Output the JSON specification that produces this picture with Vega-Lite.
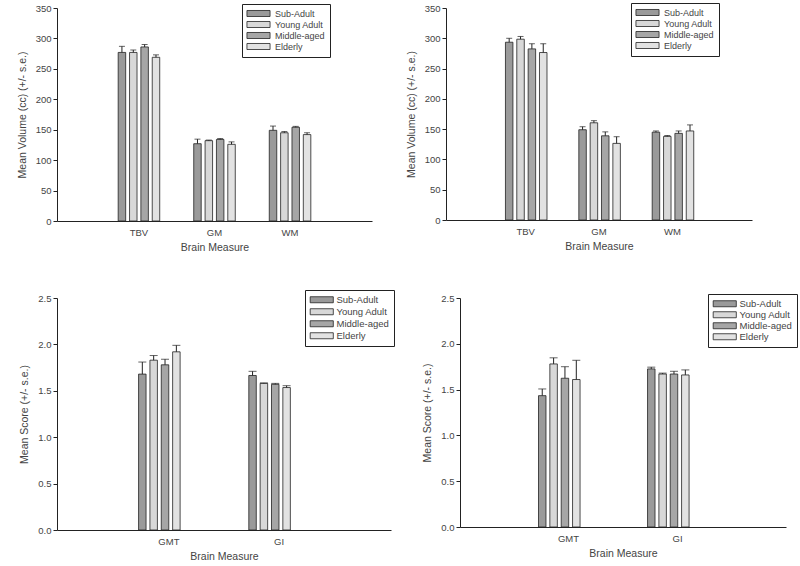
{
  "$schema": "https://vega.github.io/schema/vega-lite/v6.json",
  "padding": {"left": 17, "top": 2, "right": 0, "bottom": 0},
  "background": "white",
  "config": {
    "view": {"stroke": null},
    "font": "Liberation Sans",
    "axis": {
      "labelFont": "Liberation Sans", "titleFont": "Liberation Sans",
      "labelFontSize": 9.5, "titleFontSize": 10.5, "titleFontWeight": "normal",
      "labelColor": "#444", "titleColor": "#444",
      "domainColor": "#222", "tickColor": "#222", "grid": false
    },
    "axisX": {"ticks": false, "labelAngle": 0, "labelPadding": 6, "titlePadding": 6},
    "axisY": {"tickSize": 4, "labelPadding": 2, "titlePadding": 8, "labelOverlap": false},
    "legend": {
      "orient": "none", "fillColor": "white", "strokeColor": "#222", "padding": 5,
      "labelFont": "Liberation Sans", "labelFontSize": 9, "labelColor": "#444",
      "symbolType": "M-3.3,-0.86H3.3V0.86H-3.3Z", "symbolSize": 49,
      "symbolStrokeColor": "#222", "symbolStrokeWidth": 0.8, "symbolOffset": 7,
      "labelOffset": 12, "rowPadding": 0, "title": null
    }
  },
  "datasets": {
    "v1": [
      {"measure": "TBV", "group": "Sub-Adult", "mean": 277, "upper": 287},
      {"measure": "TBV", "group": "Young Adult", "mean": 277, "upper": 281},
      {"measure": "TBV", "group": "Middle-aged", "mean": 286, "upper": 290},
      {"measure": "TBV", "group": "Elderly", "mean": 269, "upper": 273},
      {"measure": "GM", "group": "Sub-Adult", "mean": 127, "upper": 134.5},
      {"measure": "GM", "group": "Young Adult", "mean": 132, "upper": 133},
      {"measure": "GM", "group": "Middle-aged", "mean": 134, "upper": 135.5},
      {"measure": "GM", "group": "Elderly", "mean": 126, "upper": 130},
      {"measure": "WM", "group": "Sub-Adult", "mean": 149, "upper": 156},
      {"measure": "WM", "group": "Young Adult", "mean": 145, "upper": 147},
      {"measure": "WM", "group": "Middle-aged", "mean": 154, "upper": 155.5},
      {"measure": "WM", "group": "Elderly", "mean": 142, "upper": 145}
    ],
    "v2": [
      {"measure": "TBV", "group": "Sub-Adult", "mean": 293.5, "upper": 300},
      {"measure": "TBV", "group": "Young Adult", "mean": 298.5, "upper": 303},
      {"measure": "TBV", "group": "Middle-aged", "mean": 282.5, "upper": 291},
      {"measure": "TBV", "group": "Elderly", "mean": 276.5, "upper": 291},
      {"measure": "GM", "group": "Sub-Adult", "mean": 149, "upper": 154},
      {"measure": "GM", "group": "Young Adult", "mean": 160.5, "upper": 164},
      {"measure": "GM", "group": "Middle-aged", "mean": 139, "upper": 145.5},
      {"measure": "GM", "group": "Elderly", "mean": 126.5, "upper": 137.5},
      {"measure": "WM", "group": "Sub-Adult", "mean": 145, "upper": 147},
      {"measure": "WM", "group": "Young Adult", "mean": 138, "upper": 139.5},
      {"measure": "WM", "group": "Middle-aged", "mean": 143, "upper": 147},
      {"measure": "WM", "group": "Elderly", "mean": 147, "upper": 157}
    ],
    "s1": [
      {"measure": "GMT", "group": "Sub-Adult", "mean": 1.68, "upper": 1.81},
      {"measure": "GMT", "group": "Young Adult", "mean": 1.83, "upper": 1.88},
      {"measure": "GMT", "group": "Middle-aged", "mean": 1.78, "upper": 1.84},
      {"measure": "GMT", "group": "Elderly", "mean": 1.92, "upper": 1.99},
      {"measure": "GI", "group": "Sub-Adult", "mean": 1.665, "upper": 1.71},
      {"measure": "GI", "group": "Young Adult", "mean": 1.58, "upper": 1.585},
      {"measure": "GI", "group": "Middle-aged", "mean": 1.57, "upper": 1.58},
      {"measure": "GI", "group": "Elderly", "mean": 1.535, "upper": 1.555}
    ],
    "s2": [
      {"measure": "GMT", "group": "Sub-Adult", "mean": 1.434, "upper": 1.507},
      {"measure": "GMT", "group": "Young Adult", "mean": 1.78, "upper": 1.847},
      {"measure": "GMT", "group": "Middle-aged", "mean": 1.624, "upper": 1.75},
      {"measure": "GMT", "group": "Elderly", "mean": 1.61, "upper": 1.82},
      {"measure": "GI", "group": "Sub-Adult", "mean": 1.726, "upper": 1.745},
      {"measure": "GI", "group": "Young Adult", "mean": 1.67, "upper": 1.68},
      {"measure": "GI", "group": "Middle-aged", "mean": 1.67, "upper": 1.70},
      {"measure": "GI", "group": "Elderly", "mean": 1.66, "upper": 1.715}
    ]
  },
  "spacing": 36,
  "resolve": {"scale": {"fill": "independent"}, "legend": {"fill": "independent"}},
  "vconcat": [
    {
      "spacing": 34,
      "resolve": {"scale": {"fill": "independent"}, "legend": {"fill": "independent"}},
      "hconcat": [
        {
          "width": 315, "height": 213,
          "data": {"name": "v1"},
          "encoding": {
            "x": {"field": "measure", "type": "nominal", "sort": ["TBV", "GM", "WM"], "title": "Brain Measure",
                  "scale": {"paddingInner": 0.45, "paddingOuter": 0.81}},
            "xOffset": {"field": "group", "type": "nominal", "sort": ["Sub-Adult", "Young Adult", "Middle-aged", "Elderly"],
                        "scale": {"paddingInner": 0.34, "paddingOuter": 0}}
          },
          "layer": [
            {
              "mark": {"type": "bar", "stroke": "#222", "strokeWidth": 0.8},
              "encoding": {
                "y": {"field": "mean", "type": "quantitative", "title": "Mean  Volume (cc) (+/- s.e.)",
                      "scale": {"domain": [0, 350], "nice": false},
                      "axis": {"values": [0, 50, 100, 150, 200, 250, 300, 350]}},
                "fill": {"field": "group", "type": "nominal",
                         "scale": {"domain": ["Sub-Adult", "Young Adult", "Middle-aged", "Elderly"], "range": ["#9a9a9a", "#d8d8d8", "#a6a6a6", "#e2e2e2"]},
                         "legend": {"legendX": 185, "legendY": -4}}
              }
            },
            {
              "mark": {"type": "rule", "color": "#222", "strokeWidth": 1},
              "encoding": {"y": {"field": "mean", "type": "quantitative", "title": "Mean  Volume (cc) (+/- s.e.)", "axis": {"values": [0, 50, 100, 150, 200, 250, 300, 350]}}, "y2": {"field": "upper"}}
            },
            {
              "mark": {"type": "tick", "color": "#222", "size": 6, "thickness": 1},
              "encoding": {"y": {"field": "upper", "type": "quantitative", "title": "Mean  Volume (cc) (+/- s.e.)", "axis": {"values": [0, 50, 100, 150, 200, 250, 300, 350]}}}
            }
          ]
        },
        {
          "width": 306, "height": 212,
          "data": {"name": "v2"},
          "encoding": {
            "x": {"field": "measure", "type": "nominal", "sort": ["TBV", "GM", "WM"], "title": "Brain Measure",
                  "scale": {"paddingInner": 0.45, "paddingOuter": 0.81}},
            "xOffset": {"field": "group", "type": "nominal", "sort": ["Sub-Adult", "Young Adult", "Middle-aged", "Elderly"],
                        "scale": {"paddingInner": 0.34, "paddingOuter": 0}}
          },
          "layer": [
            {
              "mark": {"type": "bar", "stroke": "#222", "strokeWidth": 0.8},
              "encoding": {
                "y": {"field": "mean", "type": "quantitative", "title": "Mean Volume (cc) (+/- s.e.)",
                      "scale": {"domain": [0, 350], "nice": false},
                      "axis": {"values": [0, 50, 100, 150, 200, 250, 300, 350]}},
                "fill": {"field": "group", "type": "nominal",
                         "scale": {"domain": ["Sub-Adult", "Young Adult", "Middle-aged", "Elderly"], "range": ["#9a9a9a", "#d8d8d8", "#a6a6a6", "#e2e2e2"]},
                         "legend": {"legendX": 185, "legendY": -5}}
              }
            },
            {
              "mark": {"type": "rule", "color": "#222", "strokeWidth": 1},
              "encoding": {"y": {"field": "mean", "type": "quantitative", "title": "Mean Volume (cc) (+/- s.e.)", "axis": {"values": [0, 50, 100, 150, 200, 250, 300, 350]}}, "y2": {"field": "upper"}}
            },
            {
              "mark": {"type": "tick", "color": "#222", "size": 6, "thickness": 1},
              "encoding": {"y": {"field": "upper", "type": "quantitative", "title": "Mean Volume (cc) (+/- s.e.)", "axis": {"values": [0, 50, 100, 150, 200, 250, 300, 350]}}}
            }
          ]
        }
      ]
    },
    {
      "spacing": 27,
      "resolve": {"scale": {"fill": "independent"}, "legend": {"fill": "independent"}},
      "hconcat": [
        {
          "width": 334, "height": 232,
          "data": {"name": "s1"},
          "encoding": {
            "x": {"field": "measure", "type": "nominal", "sort": ["GMT", "GI"], "title": "Brain Measure",
                  "scale": {"paddingInner": 0.45, "paddingOuter": 0.74}},
            "xOffset": {"field": "group", "type": "nominal", "sort": ["Sub-Adult", "Young Adult", "Middle-aged", "Elderly"],
                        "scale": {"paddingInner": 0.36, "paddingOuter": 0}}
          },
          "layer": [
            {
              "mark": {"type": "bar", "stroke": "#222", "strokeWidth": 0.8},
              "encoding": {
                "y": {"field": "mean", "type": "quantitative", "title": "Mean  Score (+/- s.e.)",
                      "scale": {"domain": [0, 2.5], "nice": false},
                      "axis": {"values": [0, 0.5, 1, 1.5, 2, 2.5], "format": ".1f"}},
                "fill": {"field": "group", "type": "nominal",
                         "scale": {"domain": ["Sub-Adult", "Young Adult", "Middle-aged", "Elderly"], "range": ["#9a9a9a", "#d8d8d8", "#a6a6a6", "#e2e2e2"]},
                         "legend": {"legendX": 248, "legendY": -8, "labelFontSize": 9.5, "labelOffset": 10, "rowPadding": 1}}
              }
            },
            {
              "mark": {"type": "rule", "color": "#222", "strokeWidth": 1},
              "encoding": {"y": {"field": "mean", "type": "quantitative", "title": "Mean  Score (+/- s.e.)", "axis": {"values": [0, 0.5, 1, 1.5, 2, 2.5], "format": ".1f"}}, "y2": {"field": "upper"}}
            },
            {
              "mark": {"type": "tick", "color": "#222", "size": 8, "thickness": 1},
              "encoding": {"y": {"field": "upper", "type": "quantitative", "title": "Mean  Score (+/- s.e.)", "axis": {"values": [0, 0.5, 1, 1.5, 2, 2.5], "format": ".1f"}}}
            }
          ]
        },
        {
          "width": 326, "height": 229,
          "data": {"name": "s2"},
          "encoding": {
            "x": {"field": "measure", "type": "nominal", "sort": ["GMT", "GI"], "title": "Brain Measure",
                  "scale": {"paddingInner": 0.45, "paddingOuter": 0.72}},
            "xOffset": {"field": "group", "type": "nominal", "sort": ["Sub-Adult", "Young Adult", "Middle-aged", "Elderly"],
                        "scale": {"paddingInner": 0.36, "paddingOuter": 0}}
          },
          "layer": [
            {
              "mark": {"type": "bar", "stroke": "#222", "strokeWidth": 0.8},
              "encoding": {
                "y": {"field": "mean", "type": "quantitative", "title": "Mean  Score (+/- s.e.)",
                      "scale": {"domain": [0, 2.5], "nice": false},
                      "axis": {"values": [0, 0.5, 1, 1.5, 2, 2.5], "format": ".1f"}},
                "fill": {"field": "group", "type": "nominal",
                         "scale": {"domain": ["Sub-Adult", "Young Adult", "Middle-aged", "Elderly"], "range": ["#9a9a9a", "#d8d8d8", "#a6a6a6", "#e2e2e2"]},
                         "legend": {"legendX": 248, "legendY": -4, "labelFontSize": 9.5, "labelOffset": 10}}
              }
            },
            {
              "mark": {"type": "rule", "color": "#222", "strokeWidth": 1},
              "encoding": {"y": {"field": "mean", "type": "quantitative", "title": "Mean  Score (+/- s.e.)", "axis": {"values": [0, 0.5, 1, 1.5, 2, 2.5], "format": ".1f"}}, "y2": {"field": "upper"}}
            },
            {
              "mark": {"type": "tick", "color": "#222", "size": 8, "thickness": 1},
              "encoding": {"y": {"field": "upper", "type": "quantitative", "title": "Mean  Score (+/- s.e.)", "axis": {"values": [0, 0.5, 1, 1.5, 2, 2.5], "format": ".1f"}}}
            }
          ]
        }
      ]
    }
  ]
}
